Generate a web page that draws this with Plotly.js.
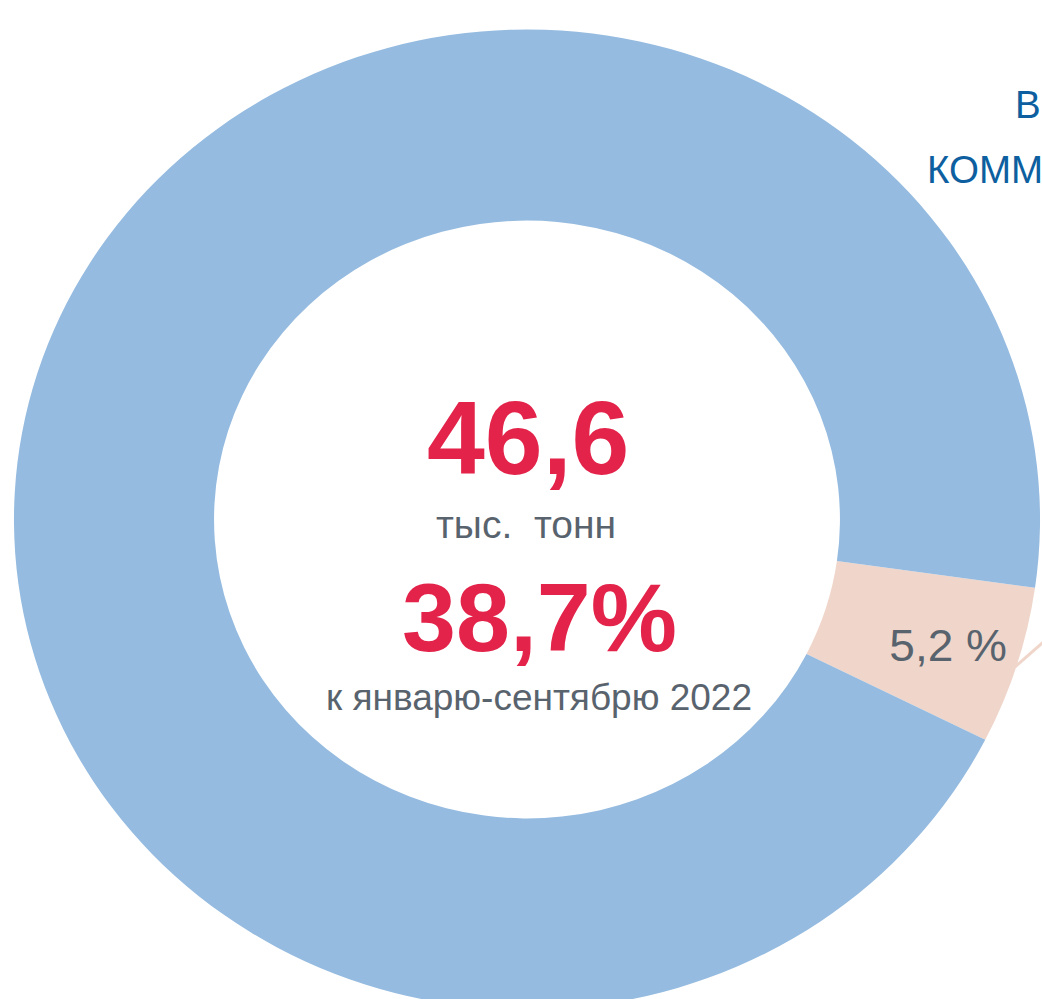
<!DOCTYPE html>
<html><head><meta charset="utf-8">
<script src="https://cdn.plot.ly/plotly-3.0.1.min.js"></script>
<style>
html,body{margin:0;padding:0;width:1042px;height:999px;overflow:hidden;background:#fff;}
#wrap{width:1042px;height:999px;overflow:hidden;position:relative;}
#pie{position:absolute;left:0;top:0;width:1250px;height:1040px;transform:scaleX(1.047);transform-origin:0 0;}
#txt{position:absolute;left:0;top:0;width:1042px;height:999px;}
</style></head><body>
<div id="wrap"><div id="pie"></div><div id="txt"></div></div>
<script>
// ---- data ----
const categories = ['Выделенная доля', 'Остальное'];
const shares = [5.2, 94.8];
const sliceLabels = ['5,2 %', ''];
const sliceColors = ['#F0D6CA', '#95BBE0'];
const totalValue = '46,6';
const totalUnit = 'тыс.  тонн';
const changeValue = '38,7%';
const changeLabel = 'к январю-сентябрю 2022';
const sideLines = ['В', 'КОММЕРЧЕСКИХ'];

// ---- layout helpers ----
const FONT = 'Liberation Sans, Arial, sans-serif';
const W = 1250, H = 1040, SX = 1.047;
const cx = 527 / SX, cy = 519.5, R = 490;
const pxp = sx => sx / SX / W, pyp = sy => 1 - sy / H;

Plotly.newPlot('pie', [{
  type: 'pie',
  labels: categories,
  values: shares,
  text: sliceLabels,
  textinfo: 'text',
  textposition: 'inside',
  insidetextorientation: 'horizontal',
  insidetextfont: {family: FONT, size: 44, color: '#59636E'},
  hole: 0.61,
  sort: false,
  direction: 'clockwise',
  rotation: 98,
  marker: {colors: sliceColors, line: {width: 0}},
  hoverinfo: 'none',
  showlegend: false,
  domain: {x: [(cx - R) / W, (cx + R) / W], y: [1 - (cy + R) / H, 1 - (cy - R) / H]}
}], {
  width: W, height: H,
  margin: {l: 0, r: 0, t: 0, b: 0},
  paper_bgcolor: 'rgba(0,0,0,0)',
  showlegend: false,
  shapes: [{type: 'line', xref: 'paper', yref: 'paper',
    x0: pxp(1015), y0: pyp(667), x1: pxp(1100), y1: pyp(592),
    line: {color: '#F0D6CA', width: 3}}]
}, {staticPlot: true, displayModeBar: false});

const W2 = 1042, H2 = 999;
const ax = x => x / W2, ay = y => 1 - y / H2;
const ann = (text, x, y, size, color, bold, xanchor) => ({
  text: bold ? '<b>' + text + '</b>' : text,
  xref: 'paper', yref: 'paper', x: ax(x), y: ay(y),
  xanchor: xanchor || 'center', yanchor: 'middle', showarrow: false,
  font: {family: FONT, size: size, color: color}
});
Plotly.newPlot('txt', [], {
  width: W2, height: H2,
  margin: {l: 0, r: 0, t: 0, b: 0},
  paper_bgcolor: 'rgba(0,0,0,0)', plot_bgcolor: 'rgba(0,0,0,0)',
  xaxis: {visible: false}, yaxis: {visible: false},
  annotations: [
    ann(totalValue, 528, 437.5, 104, '#E3234A', true),
    ann(totalUnit, 526, 524, 39, '#59636E', false),
    ann(changeValue, 539, 617, 97, '#E3234A', true),
    ann(changeLabel, 539, 697, 37, '#59636E', false),
    ann(sideLines[0], 1013, 105, 38.5, '#0D5F9F', false, 'left'),
    ann(sideLines[1], 925, 170, 38.5, '#0D5F9F', false, 'left')
  ]
}, {staticPlot: true, displayModeBar: false});
</script>
</body></html>
